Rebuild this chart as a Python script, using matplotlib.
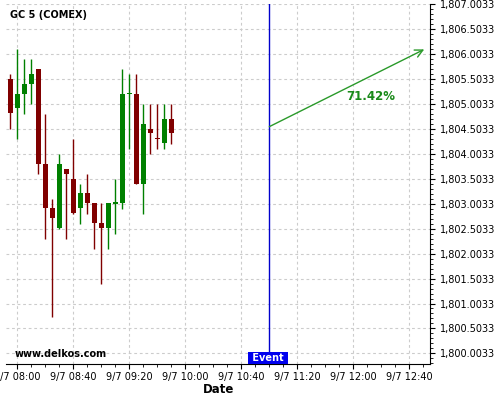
import matplotlib
matplotlib.use("Agg")
import matplotlib.pyplot as plt
import matplotlib.dates as mdates
import matplotlib.ticker as mticker
import matplotlib.transforms as mtransforms
import pandas as pd

# 5 minute candles, GC 5 (COMEX)
times = ["07:55", "08:00", "08:05", "08:10", "08:15", "08:20", "08:25", "08:30",
         "08:35", "08:40", "08:45", "08:50", "08:55", "09:00", "09:05", "09:10",
         "09:15", "09:20", "09:25", "09:30", "09:35", "09:40", "09:45", "09:50"]
opens = [1805.51, 1804.92, 1805.21, 1805.41, 1805.71, 1803.81, 1802.91, 1802.52,
         1803.71, 1803.51, 1802.92, 1803.21, 1803.01, 1802.62, 1802.52, 1803.00,
         1803.01, 1805.20, 1805.21, 1803.41, 1804.51, 1804.33, 1804.22, 1804.71]
highs = [1805.60, 1806.10, 1805.90, 1805.90, 1805.71, 1804.80, 1803.10, 1804.00,
         1803.71, 1804.30, 1803.40, 1803.60, 1803.01, 1803.01, 1803.01, 1803.50,
         1805.70, 1805.60, 1805.60, 1805.00, 1805.00, 1805.00, 1805.00, 1805.00]
lows = [1804.50, 1804.30, 1804.80, 1805.00, 1803.60, 1802.30, 1800.73, 1802.50,
        1802.30, 1802.80, 1802.60, 1802.80, 1802.10, 1801.40, 1802.10, 1802.40,
        1802.90, 1804.10, 1803.40, 1802.80, 1804.00, 1804.10, 1804.10, 1804.20]
closes = [1804.82, 1805.21, 1805.41, 1805.61, 1803.81, 1802.91, 1802.72, 1803.81,
          1803.61, 1802.82, 1803.21, 1803.02, 1802.62, 1802.52, 1803.01, 1803.03,
          1805.21, 1805.23, 1803.41, 1804.61, 1804.42, 1804.31, 1804.71, 1804.42]

day = "2021-09-07 "
event_time = "11:00"
arrow_start = ("11:00", 1804.55)
arrow_end = ("12:50:40", 1806.10)
pct_label = "71.42%"
pct_pos = ("12:12:30", 1805.155)

df = pd.DataFrame({"t": pd.to_datetime([day + t for t in times]),
                   "o": opens, "h": highs, "l": lows, "c": closes})

fig = plt.figure(figsize=(5, 4), dpi=100)
ax = fig.add_axes([0.012, 0.09, 0.8486, 0.9])

w = 3.6 / 1440.0
for _, r in df.iterrows():
    col = "#008000" if r.c >= r.o else "#800000"
    x = mdates.date2num(r.t)
    ax.vlines(x, r.l, r.h, color=col, lw=1, zorder=3)
    bot = min(r.o, r.c)
    hgt = max(abs(r.c - r.o), 0.02)
    ax.bar(x, hgt, width=w, bottom=bot, color=col, zorder=4, linewidth=0)

ev = pd.Timestamp(day + event_time)
ax.axvline(ev, color="#0000cc", lw=1, zorder=5)
ax.annotate("", xy=(pd.Timestamp(day + arrow_end[0]), arrow_end[1]),
            xytext=(pd.Timestamp(day + arrow_start[0]), arrow_start[1]),
            arrowprops=dict(arrowstyle="->", color="#2a9a2a", lw=1,
                            mutation_scale=14, shrinkA=0, shrinkB=0), zorder=6)
ax.text(pd.Timestamp(day + pct_pos[0]), pct_pos[1], pct_label, color="#1a8a1a",
        fontsize=8.5, fontweight="bold", ha="center", va="center")

ev_trans = mtransforms.offset_copy(ax.get_xaxis_transform(), fig=fig, x=-1, y=1, units="dots")
ax.text(ev, 0.0, " Event ", transform=ev_trans, color="white",
        fontsize=7, fontweight="bold", ha="center", va="bottom", zorder=7,
        bbox=dict(boxstyle="square,pad=0.1", fc="#0000ee", ec="none"))
ax.text(0.021, 0.028, "www.delkos.com", transform=ax.transAxes, fontsize=7,
        fontweight="bold", ha="left", va="center")
ax.text(0.0094, 0.969, "GC 5 (COMEX)", transform=ax.transAxes, fontsize=7,
        fontweight="bold", ha="left", va="center")

ax.set_xlim(pd.Timestamp(day + "07:51:55"), pd.Timestamp(day + "12:55:00"))
ax.set_ylim(1799.79, 1807.01)

ax.xaxis.set_major_locator(mticker.FixedLocator(
    mdates.date2num(pd.date_range(day + "08:00", day + "12:40", freq="40min"))))
ax.xaxis.set_minor_locator(mdates.MinuteLocator(byminute=range(0, 60, 10)))
ax.xaxis.set_major_formatter(mdates.DateFormatter("%-m/%-d %H:%M"))

ax.yaxis.tick_right()
ax.yaxis.set_major_locator(mticker.FixedLocator([1800.0033 + 0.5 * k for k in range(15)]))
ax.yaxis.set_minor_locator(mticker.FixedLocator([1799.8033 + 0.1 * k for k in range(73)]))
ax.yaxis.set_major_formatter(mticker.FuncFormatter(lambda v, p: "{:,.4f}".format(v)))

ax.tick_params(axis="both", which="major", labelsize=7, length=3.5, width=0.8)
ax.tick_params(axis="both", which="minor", length=2, width=0.6)
ax.tick_params(axis="x", pad=2)

for s in ["left", "top"]:
    ax.spines[s].set_visible(False)
ax.grid(True, which="major", color="#cccccc", ls=(0, (2.5, 2.5)), lw=0.8)
ax.set_axisbelow(True)

ax.set_xlabel("Date", fontsize=8.5, fontweight="bold", labelpad=1)

fig.savefig("out.png", dpi=100)
